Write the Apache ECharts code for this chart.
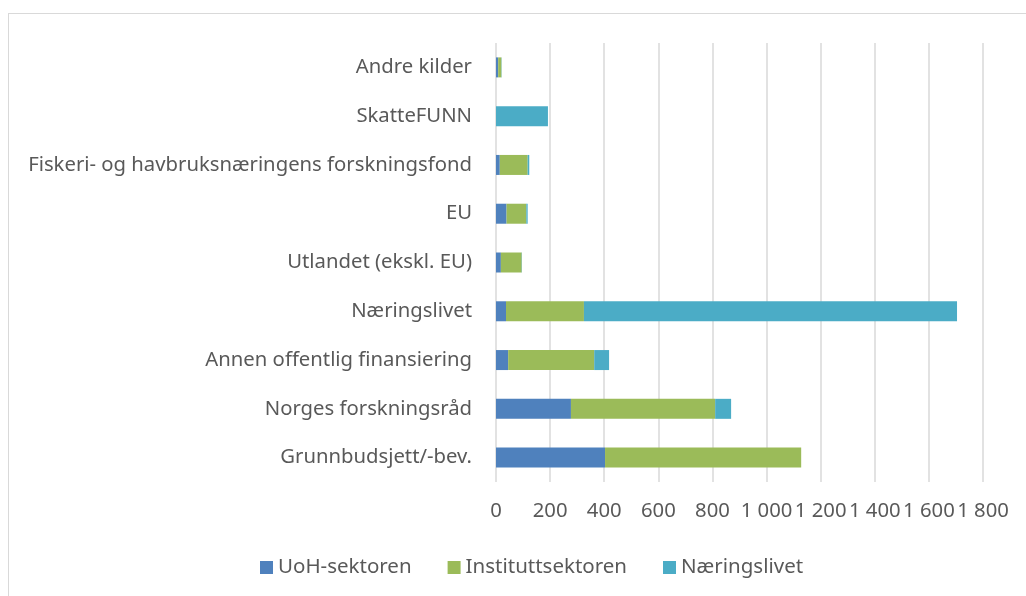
<!DOCTYPE html>
<html>

<head>
    <meta charset="UTF-8" />
    <title>Finansiering</title>
    <script src="https://cdn.jsdelivr.net/npm/echarts@6/dist/echarts.min.js"></script>
    <style>
        html, body { margin: 0; padding: 0; background: #fff; }
        #frame {
            position: absolute; left: 8px; top: 13px; right: 0; bottom: 0;
            border-top: 1px solid #d9d9d9; border-left: 1px solid #d9d9d9;
        }
        #main { position: absolute; left: 0; top: 0; width: 1026px; height: 596px; }
    </style>
    <script>
    // categories, top to bottom
    var categories = [
        'Andre kilder',
        'SkatteFUNN',
        'Fiskeri- og havbruksnæringens forskningsfond',
        'EU',
        'Utlandet (ekskl. EU)',
        'Næringslivet',
        'Annen offentlig finansiering',
        'Norges forskningsråd',
        'Grunnbudsjett/-bev.'
    ];
    var uohValues = [8, 0, 14, 39, 18, 37, 45, 277, 403];
    var instituttValues = [12, 0, 103, 73, 77, 288, 318, 533, 725];
    var naeringValues = [1, 192, 6, 5, 1, 1379, 55, 59, 0];
    var seriesNames = ['UoH-sektoren', 'Instituttsektoren', 'Næringslivet'];
    var colors = ['#4f81bd', '#9bbb59', '#4bacc6'];

    function fmt(v) {
        var s = String(v);
        if (v >= 1000) s = s.slice(0, s.length - 3) + ' ' + s.slice(-3);
        return s;
    }
    </script>
</head>

<body>
    <div id="frame"></div>
    <div id="main"></div>
    <script>
    var myChart = echarts.init(document.getElementById('main'));
    var font = 'Noto Sans';
    var allValues = [uohValues, instituttValues, naeringValues];
    var mySeries = [];
    for (var i in seriesNames) {
        mySeries.push({
            name: seriesNames[i],
            type: 'bar',
            stack: 'total',
            barWidth: 20,
            itemStyle: { color: colors[i] },
            data: allValues[i]
        });
    }
    myChart.setOption({
        animation: false,
        textStyle: { fontFamily: font },
        grid: { left: 496, right: 43, top: 43, bottom: 114 },
        legend: {
            bottom: 13,
            left: 255,
            itemWidth: 13,
            itemHeight: 13,
            itemGap: 36,
            itemTextGap: 7,
            icon: 'rect',
            textStyle: { fontSize: 20.5, color: '#595959', fontFamily: font },
            data: seriesNames
        },
        xAxis: {
            type: 'value',
            min: 0,
            max: 1800,
            interval: 200,
            axisLine: { show: false },
            axisTick: { show: false },
            splitLine: { lineStyle: { color: '#d9d9d9', width: 1.5 } },
            axisLabel: {
                margin: 19,
                fontSize: 20.3,
                color: '#595959',
                fontFamily: font,
                formatter: fmt
            }
        },
        yAxis: {
            type: 'category',
            inverse: true,
            data: categories,
            axisLine: { show: false },
            axisTick: { show: false },
            axisLabel: { margin: 24, fontSize: 20.3, color: '#595959', fontFamily: font }
        },
        series: mySeries
    });
    </script>
</body>

</html>
